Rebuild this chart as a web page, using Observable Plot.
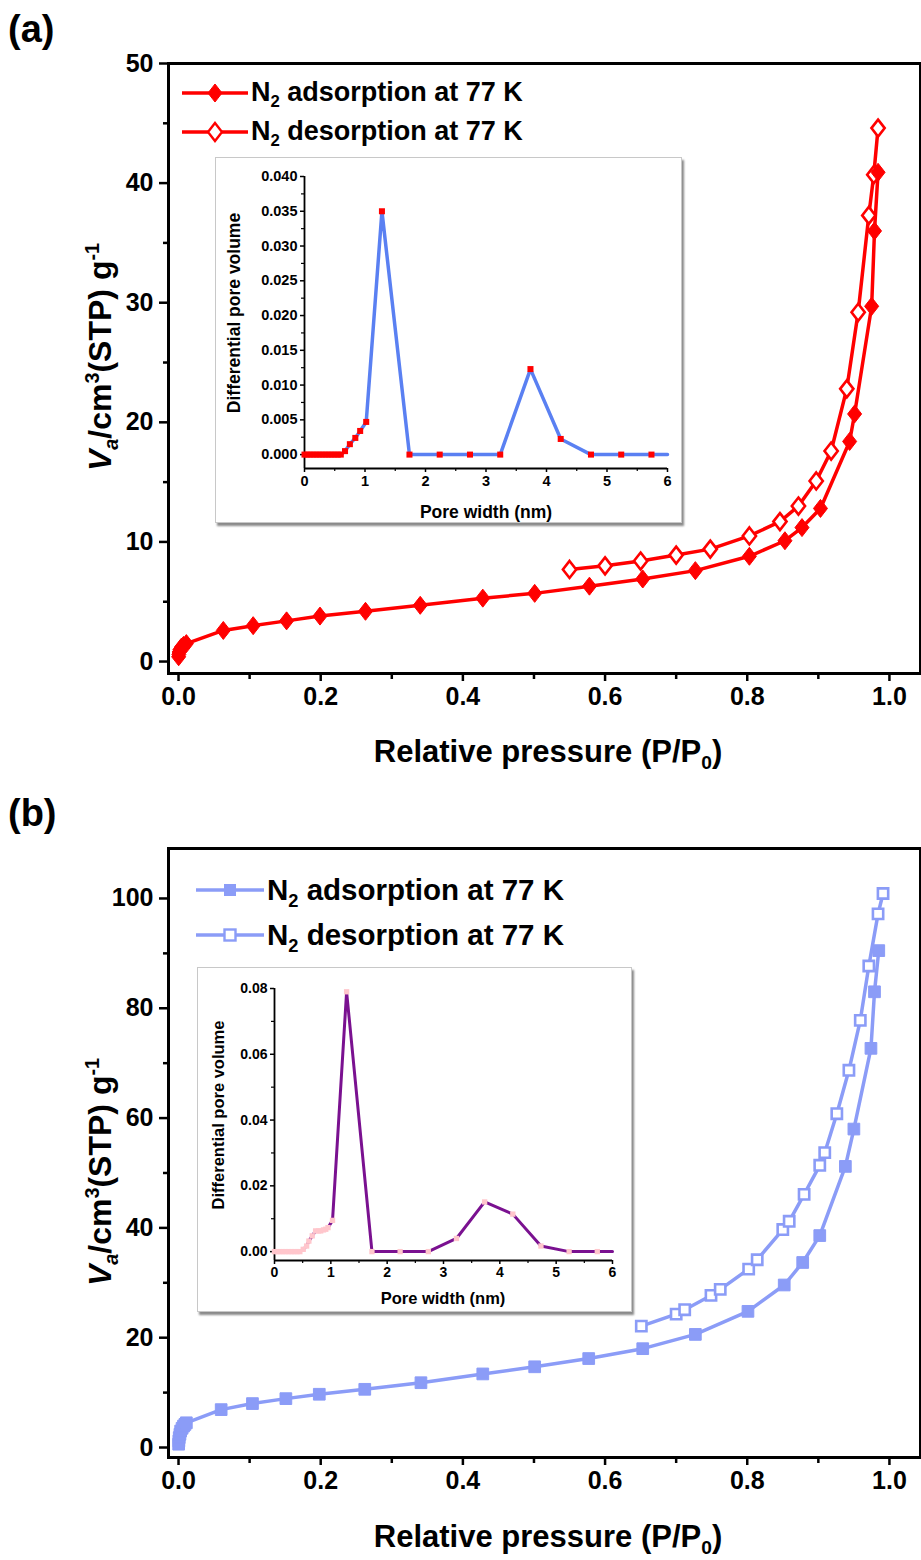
<!DOCTYPE html>
<html><head><meta charset="utf-8">
<script src="https://cdn.jsdelivr.net/npm/d3@7"></script>
<script src="https://cdn.jsdelivr.net/npm/@observablehq/plot@0.6"></script>
<style>
body{margin:0;background:#fff;}
#root{position:relative;width:921px;height:1560px;overflow:hidden;font-family:"Liberation Sans",Arial,sans-serif;color:#000;}
.abs{position:absolute;white-space:nowrap;}
.panel{font-size:38px;font-weight:bold;}
.xt{font-size:31px;font-weight:bold;transform:translate(-50%,-50%);}
.yt{font-size:32px;font-weight:bold;transform:translate(-50%,-50%) rotate(-90deg);}
.it{font-weight:bold;transform:translate(-50%,-50%);}
.ity{font-weight:bold;transform:translate(-50%,-50%) rotate(-90deg);}
.box{position:absolute;background:#fff;border:1px solid #c8c8c8;box-shadow:2px 3px 2px #8a8a8a;}
.leg{display:flex;align-items:center;font-weight:bold;white-space:nowrap;}
sub,sup{font-size:62%;line-height:0;}
</style></head><body><div id="root"></div>
<script>
// ---------- data ----------
// Panel (a)
const presA_ads = [0.0002,0.0005,0.001,0.002,0.004,0.007,0.011,0.063,0.105,0.152,0.199,0.263,0.340,0.428,0.501,0.578,0.653,0.727,0.803,0.853,0.877,0.903,0.944,0.951,0.975,0.979,0.984];
const volA_ads  = [0.4,0.6,0.8,1.0,1.2,1.35,1.5,2.6,3.0,3.4,3.8,4.2,4.7,5.3,5.7,6.3,6.9,7.6,8.8,10.1,11.2,12.8,18.4,20.7,29.7,36.0,40.9];
const presA_des = [0.550,0.600,0.650,0.700,0.748,0.803,0.846,0.872,0.897,0.918,0.940,0.956,0.971,0.978,0.984];
const volA_des  = [7.7,8.0,8.4,8.9,9.4,10.5,11.7,13.0,15.1,17.6,22.8,29.2,37.3,40.7,44.6];
const poreA_w = [0,0.05,0.1,0.15,0.2,0.25,0.3,0.35,0.4,0.45,0.5,0.55,0.6,0.67,0.75,0.84,0.92,1.02,1.28,1.735,2.235,2.735,3.235,3.735,4.235,4.735,5.235,5.735,6.0];
const poreA_v = [0,0,0,0,0,0,0,0,0,0,0,0,0,0.0005,0.0015,0.0024,0.0034,0.0047,0.035,0,0,0,0,0.0123,0.00225,0,0,0,0];
// Panel (b)
const presB_ads = [0.0002,0.0005,0.001,0.002,0.003,0.005,0.007,0.009,0.011,0.060,0.104,0.151,0.198,0.262,0.341,0.428,0.501,0.577,0.653,0.727,0.801,0.852,0.878,0.902,0.938,0.950,0.974,0.979,0.985];
const volB_ads  = [0.6,1.2,1.8,2.4,3.0,3.5,3.9,4.2,4.5,6.9,8.0,8.9,9.7,10.6,11.8,13.4,14.7,16.2,18.0,20.6,24.8,29.6,33.7,38.6,51.2,58.0,72.7,83.0,90.5];
const presB_des = [0.651,0.700,0.712,0.749,0.762,0.802,0.814,0.850,0.859,0.880,0.902,0.909,0.926,0.943,0.959,0.971,0.984,0.991];
const volB_des  = [22.1,24.3,25.1,27.7,28.8,32.5,34.2,39.7,41.2,46.1,51.4,53.7,60.8,68.7,77.8,87.7,97.2,100.9];
const poreB_w = [0,0.05,0.1,0.15,0.2,0.25,0.3,0.35,0.4,0.45,0.51,0.57,0.61,0.67,0.73,0.78,0.82,0.87,0.91,0.95,1.03,1.28,1.73,2.23,2.73,3.23,3.73,4.23,4.73,5.23,5.73,6.0];
const poreB_v = [0,0,0,0,0,0,0,0,0,0,0.0007,0.0017,0.0032,0.0048,0.0063,0.0063,0.0063,0.0066,0.0068,0.0073,0.0095,0.079,0,0,0,0.004,0.0151,0.0114,0.0017,0,0,0];
// ticks
const xTicks = [0,0.2,0.4,0.6,0.8,1.0];
const xMinor = [0.1,0.3,0.5,0.7,0.9];
const yTicksA = [0,10,20,30,40,50];
const yMinorA = [5,15,25,35,45];
const yTicksB = [0,20,40,60,80,100];
const yMinorB = [10,30,50,70,90];
const inXTicks = [0,1,2,3,4,5,6];
const inXMinor = [0.5,1.5,2.5,3.5,4.5,5.5];
const inYTicksA = [0,0.005,0.010,0.015,0.020,0.025,0.030,0.035,0.040];
const inYMinorA = [0.0025,0.0075,0.0125,0.0175,0.0225,0.0275,0.0325,0.0375];
const inYTicksB = [0,0.02,0.04,0.06,0.08];
const inYMinorB = [0.01,0.03,0.05,0.07];
const legendTexts = ["adsorption at 77 K","desorption at 77 K"];

// ---------- helpers ----------
const rows = (xs, ys) => xs.map((x,i)=>({x, y: ys[i]}));
const rhombus = {draw(ctx, size){ const r=Math.sqrt(size/Math.PI), w=r*0.78; ctx.moveTo(0,-r); ctx.lineTo(w,0); ctx.lineTo(0,r); ctx.lineTo(-w,0); ctx.closePath(); }};
const FONT = "Liberation Sans, Arial, sans-serif";
const root = document.getElementById("root");
function place(el, left, top){ el.style.position="absolute"; el.style.left=left+"px"; el.style.top=top+"px"; root.appendChild(el); return el; }
function html(cls, left, top, inner, extra){ const d=document.createElement("div"); d.className="abs "+cls; d.style.left=left+"px"; d.style.top=top+"px"; d.innerHTML=inner; if(extra) Object.assign(d.style, extra); root.appendChild(d); return d; }

function mainPlot(o){
  return Plot.plot({
    width: 921, height: o.height, marginLeft: 168, marginRight: 1, marginTop: o.mt, marginBottom: o.mb,
    x: {domain:[-0.0141, 1.0437], axis:null, label:null},
    y: {domain:o.yDomain, axis:null, label:null},
    style: {background:"transparent", fontFamily: FONT, overflow:"visible"},
    marks: [
      Plot.axisX({ticks:xTicks, tickFormat:d=>d.toFixed(1), tickSize:8, strokeWidth:2.5, fontSize:25, fontWeight:"bold", tickPadding:6, label:null}),
      Plot.axisX({ticks:xMinor, tickFormat:()=>"", tickSize:6, strokeWidth:2.5, label:null}),
      Plot.axisY({ticks:o.yTicks, tickFormat:d=>String(d), tickSize:9, strokeWidth:2.5, fontSize:25, fontWeight:"bold", tickPadding:6, label:null}),
      Plot.axisY({ticks:o.yMinor, tickFormat:()=>"", tickSize:5, strokeWidth:2.5, label:null}),
      Plot.frame({stroke:"black", strokeWidth:3}),
      Plot.line(o.des, {x:"x", y:"y", stroke:o.color, strokeWidth:3.5}),
      Plot.line(o.ads, {x:"x", y:"y", stroke:o.color, strokeWidth:3.5}),
      Plot.dot(o.des, {x:"x", y:"y", symbol:o.sym, r:o.rOpen, fill:"white", stroke:o.color, strokeWidth:2.6}),
      Plot.dot(o.ads, {x:"x", y:"y", symbol:o.sym, r:o.r, fill:o.color, stroke:o.color, strokeWidth:1})
    ]
  });
}

function insetPlot(o){
  const data = rows(o.w, o.v);
  return Plot.plot({
    width: o.width, height: o.height, marginLeft:o.ml, marginRight:o.mr, marginTop:o.mt, marginBottom:o.mb,
    x: {domain:[0,6], axis:null, label:null},
    y: {domain:o.yDomain, axis:null, label:null},
    style: {background:"transparent", fontFamily: FONT, overflow:"visible"},
    marks: [
      Plot.axisX({ticks:inXTicks, tickFormat:d=>String(d), tickSize:4, strokeWidth:1.5, fontSize:o.fs, fontWeight:"bold", tickPadding:3, label:null}),
      Plot.axisX({ticks:inXMinor, tickFormat:()=>"", tickSize:3, strokeWidth:1.2, label:null}),
      Plot.axisY({ticks:o.yTicks, tickFormat:d=>d.toFixed(o.dec), tickSize:4, strokeWidth:1.5, fontSize:o.fs, fontWeight:"bold", tickPadding:3, label:null}),
      Plot.axisY({ticks:o.yMinor, tickFormat:()=>"", tickSize:3, strokeWidth:1.2, label:null}),
      Plot.ruleX([0], {stroke:"black", strokeWidth:1.8}),
      Plot.ruleY([o.yDomain[0]], {stroke:"black", strokeWidth:1.8}),
      Plot.line(data, {x:"x", y:"y", stroke:o.lineColor, strokeWidth:o.lw}),
      Plot.dot(data.slice(0,-1), {x:"x", y:"y", symbol:"square", r:o.r, fill:o.dotColor})
    ]
  });
}

function legend(left, top, fontSize, spacing, color, sym, lineW){
  const symSvg = (filled) => sym==="diamond"
    ? `<path d="M0,-9 L7,0 L0,9 L-7,0 Z" fill="${filled?color:'white'}" stroke="${color}" stroke-width="${filled?1:2.4}"/>`
    : `<rect x="-5.5" y="-5.5" width="11" height="11" fill="${filled?color:'white'}" stroke="${color}" stroke-width="${filled?1:2.4}"/>`;
  legendTexts.forEach((t,i)=>{
    const d = document.createElement("div");
    d.className = "leg";
    d.style.fontSize = fontSize+"px";
    d.innerHTML = `<svg width="${lineW}" height="24" style="overflow:visible"><line x1="0" y1="12" x2="${lineW}" y2="12" stroke="${color}" stroke-width="3.5"/><g transform="translate(${lineW/2},12)">${symSvg(i===0)}</g></svg><span style="margin-left:3px">N<sub>2</sub> ${t}</span>`;
    place(d, left, top + i*spacing);
  });
}

// ---------- panel (a) ----------
html("panel", 8, 8, "(a)");
const pa = mainPlot({height:780, mt:63, mb:107, yDomain:[-1,50], yTicks:yTicksA, yMinor:yMinorA, color:"#ff0000",
  sym:rhombus, r:9, rOpen:8.5, ads:rows(presA_ads, volA_ads), des:rows(presA_des, volA_des)});
place(pa, 0, 0);
legend(182, 77, 27, 39, "#ff0000", "diamond", 66);
html("xt", 548, 752, "Relative pressure (P/P<sub>0</sub>)");
html("yt", 100, 357, "<i>V<sub>a</sub></i>/cm<sup>3</sup>(STP) g<sup>-1</sup>");

const boxA = document.createElement("div"); boxA.className="box"; boxA.style.width="465px"; boxA.style.height="364px";
place(boxA, 215, 157);
const ia = insetPlot({width:465, height:364, ml:88, mr:14, mt:18, mb:54, yDomain:[-0.002,0.040], yTicks:inYTicksA, yMinor:inYMinorA, dec:3,
  w:poreA_w, v:poreA_v, lineColor:"#5a80f2", dotColor:"#ff0000", r:3.4, lw:3.5, fs:14.5});
boxA.appendChild(ia);
html("ity", 234, 313, "Differential pore volume", {fontSize:"17.5px"});
html("it", 486, 512, "Pore width (nm)", {fontSize:"17.5px"});

// ---------- panel (b) ----------
html("panel", 8, 792, "(b)");
const pb = mainPlot({height:780, mt:68, mb:103, yDomain:[-1.82,109.1], yTicks:yTicksB, yMinor:yMinorB, color:"#8b9cf7",
  sym:"square", r:6.6, rOpen:5.8, ads:rows(presB_ads, volB_ads), des:rows(presB_des, volB_des)});
place(pb, 0, 780);
legend(196, 873, 29.5, 45, "#8b9cf7", "square", 68);
html("xt", 548, 1537, "Relative pressure (P/P<sub>0</sub>)");
html("yt", 100, 1172, "<i>V<sub>a</sub></i>/cm<sup>3</sup>(STP) g<sup>-1</sup>");

const boxB = document.createElement("div"); boxB.className="box"; boxB.style.width="433px"; boxB.style.height="343px";
place(boxB, 197, 967);
const ib = insetPlot({width:433, height:343, ml:76, mr:19, mt:20, mb:51, yDomain:[-0.0027,0.08], yTicks:inYTicksB, yMinor:inYMinorB, dec:2,
  w:poreB_w, v:poreB_v, lineColor:"#7a1190", dotColor:"#ffc6cc", r:3.0, lw:3, fs:14});
boxB.appendChild(ib);
html("ity", 218, 1115, "Differential pore volume", {fontSize:"16.5px"});
html("it", 443, 1298, "Pore width (nm)", {fontSize:"16.5px"});
</script></body></html>
